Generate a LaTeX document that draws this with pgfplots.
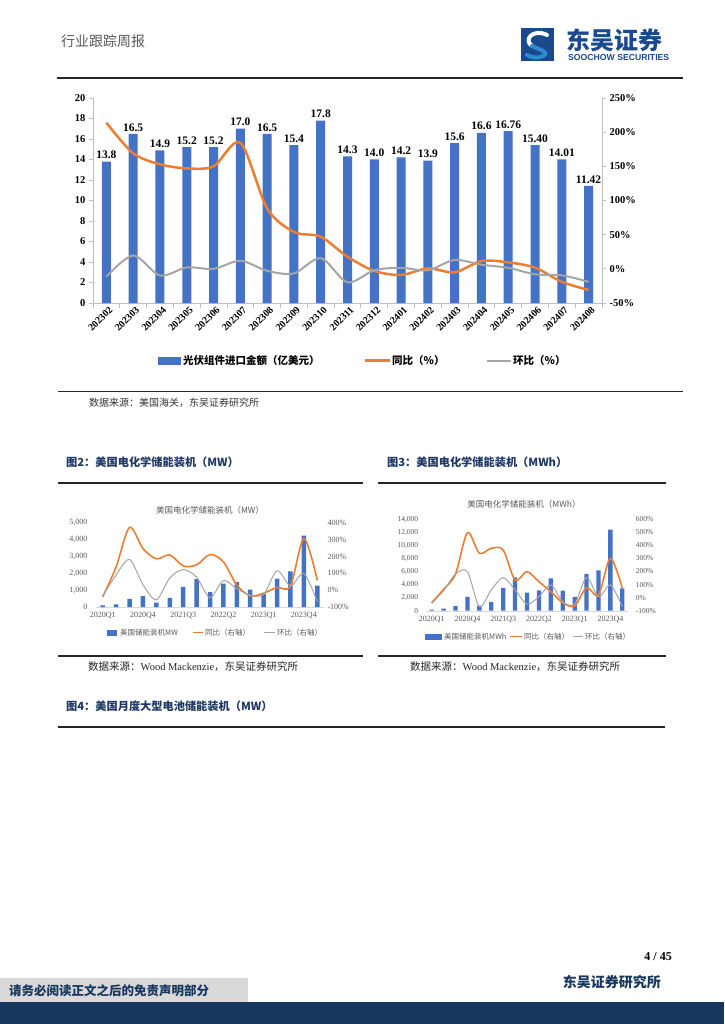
\documentclass[border=0pt]{standalone}
\usepackage{pgfplots}
\pgfplotsset{compat=1.18}
\usepackage{pgfplotstable}
\usepackage{fontspec}
\setmainfont{Liberation Serif}
\setsansfont{Liberation Sans}
\newfontfamily\cjk{Noto Sans CJK SC}
\newcommand{\fs}[1]{\fontsize{#1}{#1}\selectfont}
\definecolor{barblue}{HTML}{4472C4}
\definecolor{lorange}{HTML}{ED7D31}
\definecolor{lgray}{HTML}{A5A5A5}
\definecolor{navy}{HTML}{1F3864}
\definecolor{foot}{HTML}{17375E}
\definecolor{axgray}{HTML}{BFBFBF}
\definecolor{txtgray}{HTML}{595959}
\definecolor{logoblue}{HTML}{1B4A8C}
\definecolor{logolight}{HTML}{2E8BD0}
\definecolor{boxgray}{HTML}{D9D9D9}

\pgfplotstableread{
x val lab yoy mom
0 13.8 13.8 213.8 -11.5
1 16.5 16.5 169 19.6
2 14.9 14.9 153 -9.7
3 15.2 15.2 147 2.0
4 15.2 15.2 150 0
5 17.0 17.0 184.5 11.8
6 16.5 16.5 88.5 -2.9
7 15.4 15.4 54 -6.7
8 17.8 17.8 47 15.6
9 14.3 14.3 17.7 -19.7
10 14.0 14.0 -3 -2.1
11 14.2 14.2 -9 1.5
12 13.9 13.9 0.7 -2.1
13 15.6 15.6 -5 13
14 16.6 16.6 11.4 6
15 16.76 16.76 9.5 1.5
16 15.40 15.40 1.7 -8
17 14.01 14.01 -19 -9.5
18 11.42 11.42 -31 -19
}\mainT

\pgfplotstableread{
x mw yoy mom
0 100 -40 -35
1 160 138 90
2 480 372 182
3 640 247 33
4 260 186 -57
5 540 209 72
6 1190 144 122
7 1660 150 77
8 890 211 -45
9 1380 168 57
10 1480 30 8
11 1030 -34 -30
12 770 -18 -25
13 1680 16 115
14 2110 24 25
15 4230 306 99
16 1265 59 -70
}\mwT

\pgfplotstableread{
x mwh yoy mom
0 150 -39 -44
1 300 64 53
2 720 181 181
3 2100 498 199
4 770 340 -69
5 1330 378 59
6 3480 365 153
7 5120 135 59
8 2760 199 -49
9 3120 122 7
10 4960 46 97
11 3070 -39 -31
12 2100 -64 -49
13 5630 76 155
14 6190 20 7
15 12430 301 97
16 3430 71 -70
}\mwhT

\begin{document}
\begin{tikzpicture}
\useasboundingbox (0pt,0pt) rectangle (724pt,-1024pt);
\fill[white] (0pt,0pt) rectangle (724pt,-1024pt);
\begin{scope}[x=1pt,y=-1pt]
% header
\node[anchor=west,inner sep=0,text=txtgray] at (61,41) {\cjk\fs{14}行业跟踪周报};
\fill[logoblue] (521,28) rectangle (554,61);
\draw[white,line width=4pt,line cap=round] (547,35) .. controls (533,28) and (523,40) .. (532,46);
\draw[logolight,line width=4pt,line cap=round] (532,46) .. controls (540,50) and (550,52) .. (543,56) .. controls (538,59) and (530,57) .. (527,55);
\node[anchor=west,inner sep=0,text=logoblue] at (566,40) {\cjk\bfseries\fs{24}东吴证券};
\node[anchor=west,inner sep=0,text=logoblue] at (568,58) {\resizebox{101pt}{!}{\sffamily\bfseries SOOCHOW SECURITIES}};
\draw[line width=1.2pt,black!85] (57,78) -- (683,78);

% main legend
\fill[barblue] (157.5,357) rectangle (181,364.5);
\node[anchor=west,inner sep=0] at (183,360.7) {\cjk\bfseries\fs{10.5}光伏组件进口金额（亿美元）};
\draw[lorange,line width=2.5pt] (365,360.7) -- (390,360.7);
\node[anchor=west,inner sep=0] at (392,360.7) {\cjk\bfseries\fs{10.5}同比（\%）};
\draw[lgray,line width=2pt] (487,360.7) -- (511,360.7);
\node[anchor=west,inner sep=0] at (513,360.7) {\cjk\bfseries\fs{10.5}环比（\%）};
\draw[line width=1.5pt,black!85] (58,391.7) -- (683,391.7);
\node[anchor=west,inner sep=0,text=black!80] at (89,403) {\cjk\fs{10}数据来源：美国海关，东吴证券研究所};

% fig 2 decorations
\node[anchor=west,inner sep=0,text=navy] at (66,462.7) {\cjk\bfseries\fs{11.2}图2：美国电化学储能装机（MW）};
\draw[line width=1.5pt,black!85] (58,483) -- (363,483);
\node[inner sep=0,text=txtgray] at (210,510) {\cjk\fs{8.5}美国电化学储能装机（MW）};
\fill[barblue] (106.7,629.5) rectangle (117,636);
\node[anchor=west,inner sep=0,text=txtgray] at (120,632.7) {\cjk\fs{7.5}美国储能装机MW};
\draw[lorange,line width=1.5pt] (193,632.7) -- (203,632.7);
\node[anchor=west,inner sep=0,text=txtgray] at (205,632.7) {\cjk\fs{7.5}同比（右轴）};
\draw[lgray,line width=1pt] (264,632.7) -- (275,632.7);
\node[anchor=west,inner sep=0,text=txtgray] at (277,632.7) {\cjk\fs{7.5}环比（右轴）};
\draw[line width=1.5pt,black!85] (58,656) -- (363,656);
\node[anchor=west,inner sep=0,text=black!85] at (88,666.7) {\cjk\fs{10.5}数据来源：{\rmfamily Wood Mackenzie}，东吴证券研究所};

% fig 3 decorations
\node[anchor=west,inner sep=0,text=navy] at (387,462.7) {\cjk\bfseries\fs{11.2}图3：美国电化学储能装机（MWh）};
\draw[line width=1.5pt,black!85] (378,483) -- (666,483);
\node[inner sep=0,text=txtgray] at (524,504) {\cjk\fs{8.5}美国电化学储能装机（MWh）};
\fill[barblue] (425,633.5) rectangle (441.7,640);
\node[anchor=west,inner sep=0,text=txtgray] at (444,636.7) {\cjk\fs{7.5}美国储能装机MWh};
\draw[lorange,line width=1.5pt] (510,636.7) -- (522,636.7);
\node[anchor=west,inner sep=0,text=txtgray] at (524,636.7) {\cjk\fs{7.5}同比（右轴）};
\draw[lgray,line width=1pt] (573,636.7) -- (583,636.7);
\node[anchor=west,inner sep=0,text=txtgray] at (585,636.7) {\cjk\fs{7.5}环比（右轴）};
\draw[line width=1.5pt,black!85] (378,656) -- (666,656);
\node[anchor=west,inner sep=0,text=black!85] at (410,666.7) {\cjk\fs{10.5}数据来源：{\rmfamily Wood Mackenzie}，东吴证券研究所};

% fig 4
\node[anchor=west,inner sep=0,text=navy] at (66,706.7) {\cjk\bfseries\fs{11.2}图4：美国月度大型电池储能装机（MW）};
\draw[line width=1.5pt,black!85] (58,727) -- (665,727);

% footer
\node[anchor=east,inner sep=0] at (672,957) {\bfseries\fs{12}4 / 45};
\node[anchor=east,inner sep=0,text=foot] at (661,982) {\cjk\bfseries\fs{14}东吴证券研究所};
\fill[foot] (0,1002) rectangle (724,1024);
\fill[boxgray] (0,978) rectangle (248,1002);
\node[anchor=west,inner sep=0,text=foot] at (9,990.5) {\cjk\bfseries\fs{12.5}请务必阅读正文之后的免责声明部分};
\end{scope}

% ===== main chart =====
\begin{axis}[
  at={(93pt,-303pt)}, anchor=south west,
  scale only axis, width=509pt, height=205pt,
  xmin=-0.5, xmax=18.5, ymin=0, ymax=20,
  axis x line*=bottom, axis y line*=left,
  axis line style={axgray, line width=0.8pt, -},
  xtick={0,...,18},
  xticklabels={202302,202303,202304,202305,202306,202307,202308,202309,202310,202311,202312,202401,202402,202403,202404,202405,202406,202407,202408},
  minor xtick={-0.5,0.5,...,18.5},
  major x tick style={draw=none},
  minor x tick style={axgray, line width=0.8pt},
  minor tick length=5pt,
  ytick={0,2,...,20},
  y tick style={axgray, line width=0.8pt},
  major tick length=4pt,
  tick align=outside,
  x tick label style={rotate=45, anchor=north east, font=\bfseries\fs{10}, inner sep=0.5pt, xshift=3pt},
  y tick label style={font=\bfseries\fs{10.5}},
  /pgf/number format/assume math mode=true,
  ybar, bar width=9pt,
  nodes near coords, point meta=explicit symbolic,
  nodes near coords style={font=\bfseries\fs{11.5}, text=black, anchor=south, inner sep=2.5pt},
]
\addplot[fill=barblue, draw=none] table[x=x, y=val, meta=lab]{\mainT};
\end{axis}
\begin{axis}[
  at={(93pt,-303pt)}, anchor=south west,
  scale only axis, width=509pt, height=205pt,
  xmin=-0.5, xmax=18.5, ymin=-50, ymax=250,
  axis x line=none, axis y line*=right,
  axis line style={axgray, line width=0.8pt, -},
  ytick={-50,0,...,250},
  y tick style={axgray, line width=0.8pt},
  major tick length=4pt, tick align=outside,
  yticklabel={\pgfmathprintnumber{\tick}\%},
  y tick label style={font=\bfseries\fs{10.5}},
  /pgf/number format/assume math mode=true,
]
\addplot[lorange, line width=2.5pt, smooth, no markers] table[x=x, y=yoy]{\mainT};
\addplot[lgray, line width=2pt, smooth, no markers] table[x=x, y=mom]{\mainT};
\end{axis}

% ===== chart 2 =====
\begin{axis}[
  at={(96pt,-607pt)}, anchor=south west,
  scale only axis, width=228pt, height=84.3pt,
  xmin=-0.5, xmax=16.5, ymin=0, ymax=5000,
  axis x line*=bottom, axis y line*=left,
  x axis line style={draw=boxgray, -}, y axis line style={draw=none},
  tick style={draw=none}, major tick length=0pt,
  xtick={0,3,...,15},
  xticklabels={2020Q1,2020Q4,2021Q3,2022Q2,2023Q1,2023Q4},
  ytick={0,1000,...,5000},
  scaled y ticks=false,
  x tick label style={font=\fs{8}, text=txtgray, yshift=-2pt},
  y tick label style={font=\fs{8}, text=txtgray, xshift=-5pt},
  /pgf/number format/assume math mode=true,
  /pgf/number format/1000 sep={,},
  ybar, bar width=4.5pt,
]
\addplot[fill=barblue, draw=none] table[x=x, y=mw]{\mwT};
\end{axis}
\begin{axis}[
  at={(96pt,-607pt)}, anchor=south west,
  scale only axis, width=228pt, height=84.3pt,
  xmin=-0.5, xmax=16.5, ymin=-100, ymax=400,
  axis x line=none, axis y line*=right, y axis line style={draw=none},
  tick style={draw=none}, major tick length=0pt,
  ytick={-100,0,...,400},
  yticklabel={\pgfmathprintnumber{\tick}\%},
  y tick label style={font=\fs{8}, text=txtgray},
  /pgf/number format/assume math mode=true,
]
\addplot[lorange, line width=1.6pt, smooth, no markers] table[x=x, y=yoy]{\mwT};
\addplot[lgray, line width=1pt, smooth, no markers] table[x=x, y=mom]{\mwT};
\end{axis}

% ===== chart 3 =====
\begin{axis}[
  at={(425.75pt,-610.7pt)}, anchor=south west,
  scale only axis, width=202.5pt, height=91.4pt,
  xmin=-0.5, xmax=16.5, ymin=0, ymax=14000,
  axis x line*=bottom, axis y line*=left,
  x axis line style={draw=boxgray, -}, y axis line style={draw=none},
  tick style={draw=none}, major tick length=0pt,
  xtick={0,3,...,15},
  xticklabels={2020Q1,2020Q4,2021Q3,2022Q2,2023Q1,2023Q4},
  ytick={0,2000,...,14000},
  scaled y ticks=false,
  x tick label style={font=\fs{8}, text=txtgray, yshift=-2pt},
  y tick label style={font=\fs{7.5}, text=txtgray, xshift=-4pt},
  /pgf/number format/assume math mode=true,
  /pgf/number format/1000 sep={,},
  ybar, bar width=4.3pt,
]
\addplot[fill=barblue, draw=none] table[x=x, y=mwh]{\mwhT};
\end{axis}
\begin{axis}[
  at={(425.75pt,-610.7pt)}, anchor=south west,
  scale only axis, width=202.5pt, height=91.4pt,
  xmin=-0.5, xmax=16.5, ymin=-100, ymax=600,
  axis x line=none, axis y line*=right, y axis line style={draw=none},
  tick style={draw=none}, major tick length=0pt,
  ytick={-100,0,...,600},
  yticklabel={\pgfmathprintnumber{\tick}\%},
  y tick label style={font=\fs{7.5}, text=txtgray, xshift=4pt},
  /pgf/number format/assume math mode=true,
]
\addplot[lorange, line width=1.6pt, smooth, no markers] table[x=x, y=yoy]{\mwhT};
\addplot[lgray, line width=1pt, smooth, no markers] table[x=x, y=mom]{\mwhT};
\end{axis}
\end{tikzpicture}
\end{document}
